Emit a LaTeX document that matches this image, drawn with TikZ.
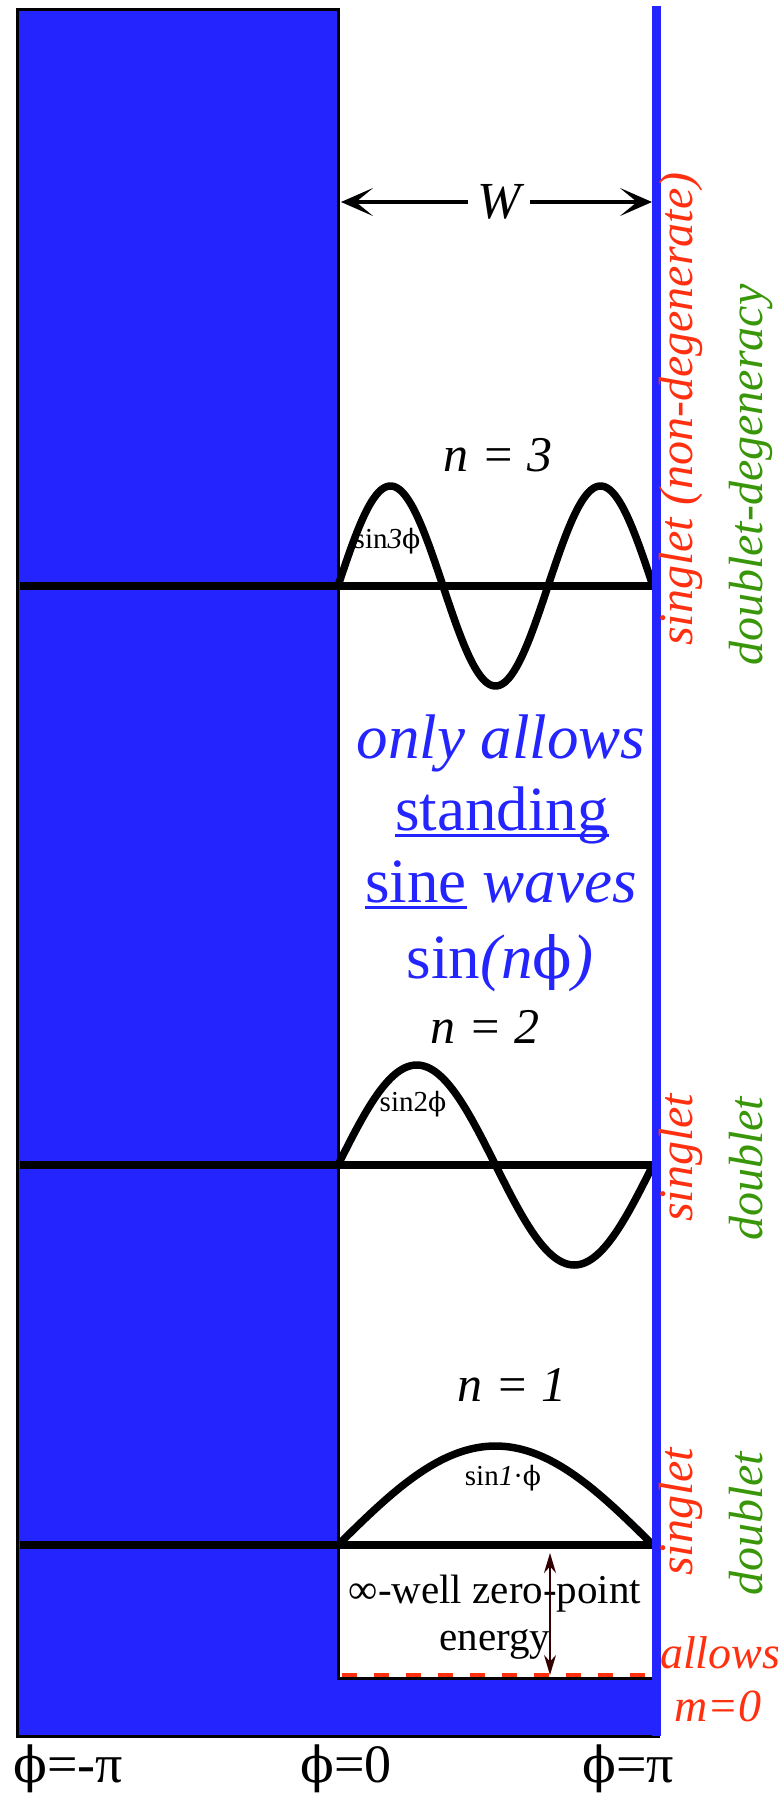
\documentclass[tikz,border=0pt]{standalone}
\usepackage{fontspec}
\setmainfont{Liberation Serif}
\newfontfamily\phifont[Scale=0.92]{DejaVu Serif}
\usetikzlibrary{arrows.meta}
\definecolor{wellblue}{RGB}{36,36,255}
\definecolor{txtred}{RGB}{255,48,16}
\definecolor{txtgreen}{RGB}{56,150,8}
\definecolor{arrbrown}{RGB}{50,0,0}
\newcommand\fsz[1]{\fontsize{#1}{#1}\selectfont}
\newcommand\myul[1]{\setbox0\hbox{#1}\rlap{\rule[-6.5pt]{\wd0}{3pt}}\box0\relax}
\newcommand\ph{{\upshape\phifont ϕ}}
\begin{document}
\begin{tikzpicture}[x=1pt,y=-1pt,
  levelline/.style={line width=7.5pt},
  wave/.style={line width=7.5pt, line join=round},
  nlab/.style={font=\fsz{50}\itshape, inner sep=0pt, anchor=base},
  slab/.style={font=\fsz{29}, inner sep=0pt, anchor=base},
  bluetxt/.style={font=\fsz{63}, text=wellblue, inner sep=0pt, anchor=base},
  redrot/.style={font=\fsz{48}\itshape, text=txtred, rotate=90, anchor=base west, inner sep=0pt},
  greenrot/.style={font=\fsz{48}\itshape, text=txtgreen, rotate=90, anchor=base west, inner sep=0pt},
  redtxt/.style={font=\fsz{46}\itshape, text=txtred, inner sep=0pt},
  philab/.style={font=\fsz{54}, inner sep=0pt, anchor=base},
  zptxt/.style={font=\fsz{41}, inner sep=0pt, anchor=base},
  warrow/.style={line width=4pt, -{Stealth[length=32pt,width=28pt,inset=17pt]}},
  zparrow/.style={draw=arrbrown, line width=1.5pt, {Stealth[length=20pt,width=12pt,fill=arrbrown]}-{Stealth[length=20pt,width=12pt,fill=arrbrown]}}
]
\useasboundingbox (0,0) rectangle (777,1793);

% potential well (blue region)
\filldraw[fill=wellblue, draw=black, line width=3pt]
  (17,10) -- (338,10) -- (338,1678) -- (658,1678) -- (658,1736) -- (17,1736) -- cycle;

% m=0 dashed line
\draw[txtred, line width=4pt, dash pattern=on 15pt off 17pt] (342,1675) -- (650,1675);

% energy levels
\draw[levelline] (20,1545) -- (652,1545);
\draw[levelline] (20,1165) -- (652,1165);
\draw[levelline] (20,586) -- (652,586);

% waves
\draw[wave] plot[domain=0:180, samples=90] ({338+\x/180*315}, {1545-99*sin(\x)});
\draw[wave] plot[domain=0:360, samples=150] ({338+\x/360*315}, {1165-100*sin(\x)});
\draw[wave] plot[domain=0:540, samples=220] ({338+\x/540*315}, {586-100*sin(\x)});

% right wall
\draw[wellblue, line width=9pt] (656,6) -- (656,1736);

% W arrow
\node[font=\fsz{52}\itshape, inner sep=0pt, inner xsep=9pt] (W) at (499,202) {W};
\coordinate (wl) at (341,202);
\coordinate (wr) at (652,202);
\draw[warrow] (W) -- (wl);
\draw[warrow] (W) -- (wr);

% n labels
\node[nlab] (n3) at (498,471) {n = 3};
\node[nlab] (n2) at (485,1043) {n = 2};
\node[nlab] (n1) at (512,1401) {n = 1};

% small sine labels
\node[slab] (s3) at (387,548) {sin\textit{3}\ph};
\node[slab] (s2) at (413,1111) {sin2\ph};
\node[slab] (s1) at (503,1485) {sin\textit{1}·\ph};

% central blue text
\node[bluetxt] (b1) at (501,758) {\itshape only allows};
\node[bluetxt] (b2) at (502,830) {\myul{standing}};
\node[bluetxt] (b3) at (501,902) {\myul{sine} \textit{waves}};
\node[bluetxt] (b4) at (500,978) {sin\textit{(n}\ph\textit{)}};

% degeneracy labels
\node[redrot] (r3) at (692,646) {singlet (non-degenerate)};
\node[greenrot] (g3) at (762,666) {doublet-degeneracy};
\node[redrot] (r2) at (692,1222) {singlet};
\node[greenrot] (g2) at (762,1241) {doublet};
\node[redrot] (r1) at (692,1576) {singlet};
\node[greenrot] (g1) at (762,1596) {doublet};
\node[redtxt, anchor=base west] (al) at (660,1668) {allows};
\node[redtxt, anchor=base] (m0) at (718,1721) {m=0};

% zero-point energy
\node[zptxt] (zp1) at (495,1603) {∞-well zero-point};
\node[zptxt] (zp2) at (495,1650) {energy};
\coordinate (zpt) at (550,1553);
\coordinate (zpb) at (550,1675);
\draw[zparrow] (zpt) -- (zpb);

% phi labels
\node[philab] (p1) at (68,1782) {\ph=-π};
\node[philab] (p2) at (346,1782) {\ph=0};
\node[philab] (p3) at (628,1782) {\ph=π};
\end{tikzpicture}
\end{document}
